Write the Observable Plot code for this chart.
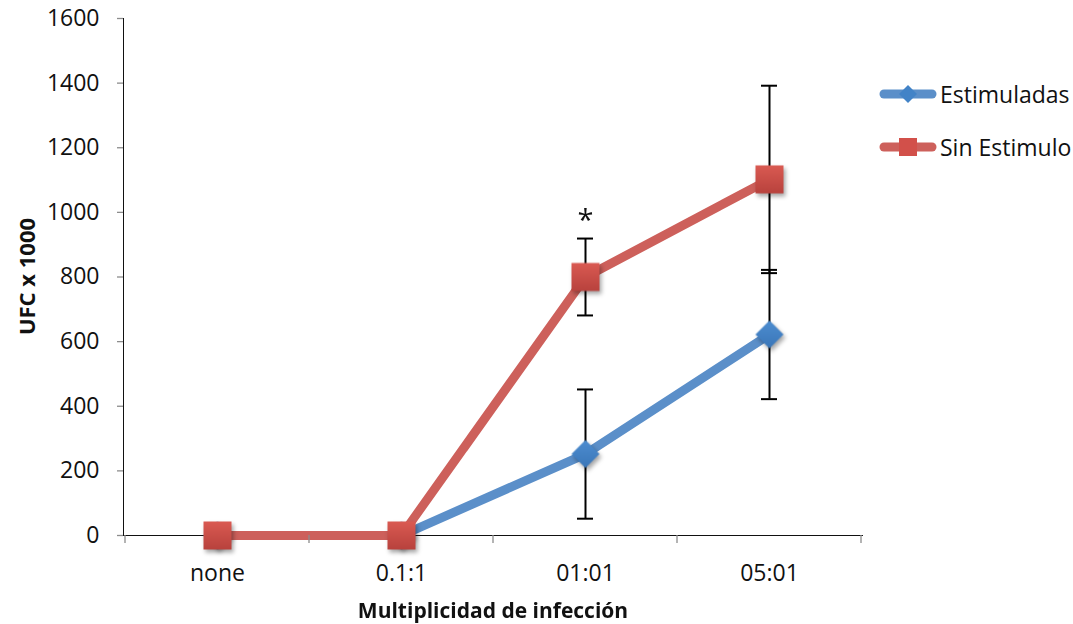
<!DOCTYPE html>
<html><head><meta charset="utf-8">
<script src="https://cdn.jsdelivr.net/npm/d3@7"></script>
<script src="https://cdn.jsdelivr.net/npm/@observablehq/plot@0.6"></script>
<style>
body{margin:0;background:#fff;font-family:"Open Sans",sans-serif}
#wrap{position:relative;width:1073px;height:624px;overflow:hidden}
#wrap svg g[aria-label*="axis"] line, #wrap svg g[aria-label*="axis"] path{stroke:#8c8c8c;stroke-width:1.3px}
#wrap svg g[aria-label*="axis"] text{fill:#111}
.marker{filter:drop-shadow(2px 3px 2px rgba(0,0,0,0.35))}
.legend{position:absolute;left:876px;top:78px;font-size:23px;color:#111}
.legend .row{display:flex;align-items:center;height:32px;margin-bottom:21px}
.legend svg{width:64px;height:32px}
</style></head><body><div id="wrap"></div>
<script>
const categories = ["none", "0.1:1", "01:01", "05:01"];
const estimuladas = [0, 0, 252, 622];
const estimuladasErr = [null, null, 200, 200];
const sinEstimulo = [0, 0, 800, 1102];
const sinEstimuloErr = [null, null, 119, 290];
const yTicks = [0, 200, 400, 600, 800, 1000, 1200, 1400, 1600];
const seriesNames = ["Estimuladas", "Sin Estimulo"];
const annotations = [{cat: "01:01", y: 1000, text: "*"}];

const blueLine = "#5b8fc9", blueMark = "#4283c7";
const redLine = "#cd605b", redMark = "#d2504a";

function rows(vals, errs) {
  return categories.map((c, i) => ({cat: c, v: vals[i], e: errs[i]}));
}
const est = rows(estimuladas, estimuladasErr);
const sin = rows(sinEstimulo, sinEstimuloErr);
const estE = est.filter(d => d.e != null);
const sinE = sin.filter(d => d.e != null);

function errMarks(data) {
  return [
    Plot.ruleX(data, {x: "cat", y1: d => d.v - d.e, y2: d => d.v + d.e, stroke: "#000", strokeWidth: 2}),
    Plot.ruleY(data, {y: d => d.v + d.e, x1: "cat", x2: "cat", insetLeft: -8, insetRight: -8, stroke: "#000", strokeWidth: 2}),
    Plot.ruleY(data, {y: d => d.v - d.e, x1: "cat", x2: "cat", insetLeft: -8, insetRight: -8, stroke: "#000", strokeWidth: 2})
  ];
}

const chart = Plot.plot({
  width: 1073, height: 624,
  marginLeft: 123, marginRight: 211, marginTop: 18, marginBottom: 89,
  style: {fontFamily: '"Open Sans", sans-serif', fontSize: "23px", color: "#111", background: "#fff"},
  x: {type: "point", domain: categories, padding: 0.5, label: null, tickSize: 0, tickPadding: 29, line: true},
  y: {domain: [0, 1600], ticks: yTicks, tickSize: 6, tickPadding: 18, label: null, line: true, tickFormat: d => String(d)},
  marks: [
    Plot.line(est, {x: "cat", y: "v", stroke: blueLine, strokeWidth: 9, strokeLinejoin: "round"}),
    ...errMarks(estE),
    Plot.dot(est, {x: "cat", y: "v", symbol: "diamond2", r: 12.6, fill: "url(#gBlue)", stroke: "none", className: "marker"}),
    Plot.line(sin, {x: "cat", y: "v", stroke: redLine, strokeWidth: 9, strokeLinejoin: "round"}),
    ...errMarks(sinE),
    Plot.dot(sin, {x: "cat", y: "v", symbol: "square", r: 15.8, fill: "url(#gRed)", stroke: "none", className: "marker"}),
    Plot.text(annotations, {x: "cat", y: "y", text: "text", fontSize: 29, dy: 8, fill: "#111"})
  ]
});

// gradients
const svg = d3.select(chart);
const defs = svg.insert("defs", ":first-child");
const gr = defs.append("linearGradient").attr("id", "gRed").attr("x1", 0).attr("y1", 0).attr("x2", 0).attr("y2", 1);
gr.append("stop").attr("offset", "0%").attr("stop-color", "#da5a52");
gr.append("stop").attr("offset", "100%").attr("stop-color", "#b8423d");
const gb = defs.append("linearGradient").attr("id", "gBlue").attr("x1", 0).attr("y1", 0).attr("x2", 0).attr("y2", 1);
gb.append("stop").attr("offset", "0%").attr("stop-color", "#4d8dd0");
gb.append("stop").attr("offset", "100%").attr("stop-color", "#3a76b8");

// category boundary ticks on the x axis
const xs = chart.scale("x"), ys = chart.scale("y");
const step = xs.apply(categories[1]) - xs.apply(categories[0]);
const y0 = ys.apply(0);
const xFirst = xs.apply(categories[0]) - step / 2;
const xLast = xs.apply(categories[categories.length - 1]) + step / 2;
const bounds = categories.map(c => xs.apply(c) - step / 2).concat([xLast]);
const bt = svg.append("g").attr("aria-label", "x-axis boundaries");
bounds.forEach(b => bt.append("line").attr("x1", b).attr("x2", b).attr("y1", y0).attr("y2", y0 + 8).attr("stroke", "#8c8c8c").attr("stroke-width", 1.3));

// axis titles
svg.append("text").attr("x", (xFirst + xLast) / 2).attr("y", 618)
  .attr("text-anchor", "middle").attr("font-family", '"Open Sans", sans-serif').attr("font-weight", "bold").attr("font-size", 21).attr("fill", "#111")
  .text("Multiplicidad de infección");
svg.append("text").attr("transform", `translate(35,${(ys.apply(1600) + y0) / 2}) rotate(-90)`)
  .attr("text-anchor", "middle").attr("font-family", '"Open Sans", sans-serif').attr("font-weight", "bold").attr("font-size", 22).attr("fill", "#111")
  .text("UFC x 1000");

const wrap = document.getElementById("wrap");
wrap.appendChild(chart);

// legend
const legend = document.createElement("div");
legend.className = "legend";
legend.innerHTML = `
<div class="row"><svg viewBox="0 0 64 32"><line x1="8" x2="56" y1="16" y2="16" stroke="${blueLine}" stroke-width="9" stroke-linecap="round"/><path d="M32 7 L41 16 L32 25 L23 16Z" fill="${blueMark}"/></svg><span>${seriesNames[0]}</span></div>
<div class="row"><svg viewBox="0 0 64 32"><line x1="8" x2="56" y1="16" y2="16" stroke="${redLine}" stroke-width="9" stroke-linecap="round"/><rect x="23" y="7" width="18" height="18" fill="${redMark}"/></svg><span>${seriesNames[1]}</span></div>`;
wrap.appendChild(legend);
</script>
</body></html>
